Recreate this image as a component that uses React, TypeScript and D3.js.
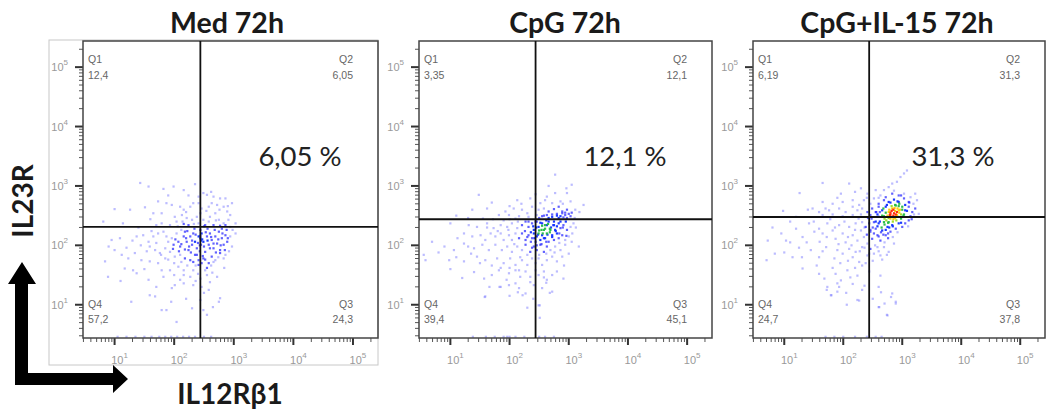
import React from "react";
import * as d3 from "d3";

// ---------- DATA ----------
const titles = ["Med 72h", "CpG 72h", "CpG+IL-15 72h"];
const q1Values = ["12,4", "3,35", "6,19"];
const q2Values = ["6,05", "12,1", "31,3"];
const q3Values = ["24,3", "45,1", "37,8"];
const q4Values = ["57,2", "39,4", "24,7"];
const gateX = [275, 275, 275]; // IL12Rβ1 gate
const gateY = [204, 275, 300]; // IL23R gate
const xTickLabels = ["1", "2", "3", "4", "5"];
const yTickLabels = ["1", "2", "3", "4", "5"];
const xAxisTitle = "IL12Rβ1";
const yAxisTitle = "IL23R";

// events as [log10 IL12Rβ1, log10 IL23R]
const medEvents: number[][] = [
  [1.43,3.05],[1.57,2.99],[1.82,2.95],[1.99,2.99],[2.16,2.93],[2.35,3.03],[2.41,2.82],[2.49,2.88],[2.55,2.85],[2.66,2.82],
  [2.77,2.79],[2.86,2.79],[2.97,2.71],[1.73,2.74],[1.87,2.71],[1.96,2.68],[2.10,2.65],[2.16,2.60],[2.27,2.65],[2.32,2.71],
  [2.41,2.71],[2.46,2.62],[2.58,2.65],[2.63,2.71],[2.72,2.68],[2.83,2.65],[2.89,2.57],[2.94,2.51],[3.03,2.37],[1.00,2.61],
  [1.26,2.60],[1.51,2.64],[1.65,2.54],[1.79,2.54],[2.01,2.48],[2.13,2.51],[2.21,2.46],[2.30,2.43],[2.38,2.48],[2.49,2.43],
  [2.60,2.48],[2.69,2.54],[2.75,2.43],[2.83,2.37],[2.91,2.43],[0.81,2.40],[1.14,2.37],[1.79,2.37],[1.93,2.34],[2.04,2.40],
  [2.16,2.36],[2.41,2.37],[2.52,2.34],[2.66,2.34],[2.77,2.33],[2.86,2.34],[2.94,2.31],
  [0.95,2.09],[1.09,2.12],[1.37,2.15],[1.48,2.17],[1.57,2.06],[1.65,2.15],[1.73,2.20],[1.82,2.23],[1.87,2.15],[1.90,2.06],
  [1.96,2.12],[1.99,2.01],[2.04,2.20],[2.07,2.06],[2.10,1.98],[2.16,2.15],[2.18,2.23],[2.21,2.06],[2.24,1.92],[2.27,2.15],
  [2.30,2.01],[2.32,2.20],[2.35,2.06],[2.38,1.95],[2.41,2.15],[2.44,2.12],[2.45,2.01],[2.46,2.20],[2.49,2.06],[2.52,1.89],
  [2.55,2.15],[2.58,2.01],[2.60,2.20],[2.63,2.09],[2.66,1.95],[2.69,2.15],[2.72,2.03],[2.75,2.23],[2.77,1.92],[2.80,2.12],
  [2.83,2.01],[2.86,2.17],[2.89,2.06],[2.94,2.15],[2.97,1.98],[3.03,2.20],[1.59,1.98],[1.68,1.92],[1.76,1.87],[1.85,1.95],
  [1.93,1.89],[2.01,1.81],[2.10,1.84],[2.18,1.78],[2.27,1.75],[2.35,1.84],[2.41,1.75],[2.49,1.78],[2.58,1.70],[2.63,1.81],
  [2.69,1.75],[2.77,1.87],[2.83,1.78],[1.00,1.92],[1.23,1.78],[1.34,1.87],[1.45,1.75],[1.59,1.73],[1.73,1.70],[1.85,1.78],
  [0.84,1.73],[1.17,1.61],[1.31,1.58],[1.79,1.58],[1.93,1.58],[2.07,1.64],[2.16,1.58],[2.32,1.58],[2.41,1.67],[2.52,1.58],
  [0.89,1.47],[1.37,1.53],[1.57,1.42],[1.82,1.47],[2.16,1.50],[2.27,1.47],[2.44,1.44],[2.55,1.50],[2.72,1.47],[2.01,1.33],
  [2.16,1.36],[2.32,1.33],[2.46,1.30],[2.58,1.25],[1.96,1.28],[1.59,1.16],[1.68,1.14],[1.28,1.05],[1.79,0.91],[1.87,0.91],
  [2.30,0.94],[2.49,0.91],[2.55,0.83],[2.75,1.05],[2.04,0.71],[2.77,1.11],
  [2.02,2.10],[2.12,2.02],[2.20,2.12],[2.25,1.98],[2.30,2.08],[2.36,2.18],[2.40,2.04],[2.43,1.90],[2.47,2.10],[2.50,1.98],
  [2.53,2.22],[2.56,2.08],[2.60,1.95],[2.62,2.14],[2.66,2.03],[2.70,1.88],[2.74,2.10],[2.78,2.00],[2.81,2.20],[2.85,1.92],
  [2.90,2.12],[2.48,1.82],[2.38,1.84],[2.28,1.88],[2.18,1.93],[2.08,1.90],[1.98,1.94],[2.44,2.26],[2.34,2.28],[2.56,2.28],
  [2.68,2.26],[2.22,2.24],[2.12,2.26],[2.46,1.70],[2.36,1.66],[2.55,1.62],[2.62,1.66],[2.44,2.16],[2.45,2.08],[2.43,2.00],
  [2.06,2.32],[2.14,2.40],[2.24,2.34],[2.33,2.36],[2.50,2.32],[2.58,2.40],[2.70,2.42],[2.80,2.28],[2.88,2.26],[2.98,2.26],
  [2.92,1.90],[2.86,1.84],[2.74,1.80],[2.66,1.72],[2.52,1.76],[2.32,1.72],[2.22,1.66],[2.12,1.72],[2.00,1.70],[1.90,1.76],
  [1.78,1.84],[1.70,2.04],[1.62,2.24],[1.54,1.90],[1.44,2.00],[1.30,2.08],[1.20,1.96],[1.12,1.84],[0.90,1.98],[1.40,2.30],
  [1.60,2.44],[1.70,2.34],[2.20,2.56],[2.44,2.54],[2.54,2.58],[2.76,2.60],[2.90,2.66],[2.62,2.90],[2.24,2.84],[1.90,2.84],
  [2.00,1.50],[2.40,1.52],[2.64,1.54],[2.84,1.62],[2.10,1.42],[2.36,1.40],[2.60,1.38],[1.70,1.30],[1.50,1.60],[1.10,1.40],
  [2.50,1.20],[2.20,1.10],[2.65,0.96],[1.95,1.05],[2.44,1.08],
  [1.05,0.46],[1.20,0.46],[1.35,0.46],[1.50,0.46],[1.62,0.46],[1.75,0.46],[1.85,0.46],[1.95,0.46],[2.05,0.46],[2.15,0.46],
  [2.25,0.46],[2.35,0.46],[2.50,0.46],[2.62,0.46],
];

const cpgEvents: number[][] = [
  [2.77,3.19],[3.05,3.02],[1.48,2.85],[2.13,2.76],[2.35,2.79],[2.63,2.82],[2.77,2.88],[2.97,2.88],[2.52,2.71],[2.72,2.71],
  [2.86,2.74],[3.03,2.74],[3.25,2.68],[1.93,2.57],[2.07,2.62],[2.21,2.60],[2.30,2.54],[2.38,2.65],[2.49,2.60],[2.58,2.62],
  [2.66,2.57],[2.75,2.61],[2.83,2.65],[2.89,2.57],[2.97,2.60],[3.05,2.55],[3.11,2.60],[1.37,2.60],[1.62,2.62],[1.82,2.51],
  [1.99,2.51],[2.16,2.49],[2.32,2.48],[2.46,2.51],[2.55,2.49],[2.63,2.51],[2.72,2.48],[2.80,2.53],[2.86,2.49],[2.94,2.51],
  [3.03,2.49],[2.89,2.54],[2.94,2.55],[3.00,2.53],[2.91,2.47],[2.83,2.46],[2.97,2.46],
  [1.00,2.37],[1.31,2.34],[1.45,2.31],[1.62,2.37],[1.73,2.29],[1.85,2.34],[1.96,2.31],[2.04,2.37],[2.13,2.29],[2.21,2.34],
  [2.27,2.40],[2.32,2.31],[2.38,2.37],[2.41,2.26],[2.46,2.40],[2.49,2.31],[2.55,2.37],[2.58,2.26],[2.63,2.34],[2.66,2.40],
  [2.69,2.26],[2.75,2.34],[2.77,2.26],[2.83,2.37],[2.86,2.29],[2.91,2.34],[2.97,2.26],[3.03,2.31],[3.08,2.37],
  [1.23,2.20],[1.37,2.15],[1.51,2.17],[1.59,2.09],[1.68,2.20],[1.76,2.15],[1.85,2.20],[1.90,2.09],[1.99,2.17],[2.04,2.09],
  [2.10,2.20],[2.16,2.12],[2.21,2.20],[2.27,2.09],[2.32,2.17],[2.38,2.12],[2.41,2.20],[2.44,2.06],[2.46,2.15],[2.49,2.20],
  [2.52,2.09],[2.55,2.17],[2.60,2.12],[2.63,2.20],[2.66,2.06],[2.72,2.17],[2.75,2.09],[2.80,2.20],[2.83,2.12],[2.89,2.17],
  [2.94,2.09],[3.00,2.15],[3.05,2.06],[3.17,1.98],[0.69,2.06],[1.06,1.92],[1.23,2.03],[1.40,1.95],[1.54,2.01],[1.65,1.92],
  [1.76,2.01],[1.87,1.92],[1.96,1.98],[2.04,1.89],[2.13,1.98],[2.21,1.92],[2.27,2.01],[2.35,1.89],[2.41,1.98],[2.46,1.92],
  [2.52,2.01],[2.58,1.89],[2.63,1.98],[2.69,1.92],[2.77,1.98],[2.86,1.92],[2.94,2.01],[0.55,1.84],[0.58,1.75],[0.98,1.75],
  [1.23,1.73],[1.45,1.81],[1.59,1.75],[1.79,1.78],[1.90,1.70],[2.01,1.78],[2.10,1.67],[2.21,1.75],[2.30,1.67],[2.38,1.78],
  [2.44,1.70],[2.49,1.78],[2.55,1.67],[2.63,1.75],[2.72,1.81],[2.80,1.73],[2.89,1.81],
  [1.57,1.44],[1.82,1.58],[1.85,1.30],[1.99,1.53],[2.10,1.58],[2.18,1.47],[2.27,1.56],[2.35,1.47],[2.44,1.58],[2.49,1.50],
  [2.58,1.56],[2.63,1.42],[2.72,1.50],[2.91,1.44],[1.99,1.33],[2.16,1.28],[2.27,1.19],[2.41,1.33],[2.55,1.28],[2.72,1.22],
  [1.59,1.14],[2.49,0.99],[1.58,1.13],[1.83,1.30],[2.14,1.21],[2.22,1.16],[2.51,0.99],[2.51,0.78],[2.68,1.20],[2.62,1.37],
  [2.45,2.30],[2.50,2.25],[2.55,2.33],[2.60,2.28],[2.65,2.36],[2.70,2.30],[2.75,2.40],[2.80,2.32],[2.62,2.42],[2.56,2.20],
  [2.52,2.38],[2.68,2.22],[2.72,2.14],[2.78,2.24],[2.58,2.12],[2.48,2.18],[2.42,2.12],[2.40,2.32],[2.36,2.22],[2.32,2.40],
  [2.66,2.46],[2.86,2.40],[2.90,2.30],[2.84,2.20],[2.62,2.06],[2.54,2.02],[2.46,2.00],[2.38,1.96],[2.30,2.14],[2.44,2.40],
  [2.58,2.50],[2.72,2.52],[2.80,2.50],[2.50,2.46],[2.95,2.40],[2.64,2.18],[2.60,2.34],[2.68,2.28],[2.54,2.26],[2.74,2.34],
  [1.10,2.50],[1.30,2.46],[1.55,2.45],[1.72,2.44],[1.90,2.42],[2.00,2.44],[2.10,2.45],[1.62,2.30],[1.80,2.24],[1.12,2.12],
  [1.30,1.98],[0.90,1.98],[0.80,1.88],[1.10,1.80],[1.35,1.86],[1.50,1.70],[1.70,1.66],[1.85,1.62],[2.00,1.62],[2.16,1.58],
  [1.40,1.55],[1.70,1.50],[1.95,1.42],[2.10,1.36],[2.35,1.38],[2.58,1.46],[2.80,1.56],[2.92,1.66],[3.00,1.86],[3.06,2.20],
  [3.12,2.30],[3.10,2.46],[3.18,2.56],[2.90,2.70],[2.60,2.76],[2.44,2.86],[2.20,2.70],[2.00,2.66],[1.70,2.72],[2.96,2.96],
  [2.66,3.00],[2.30,1.84],[2.18,1.80],[2.08,2.02],[1.98,2.26],[2.14,2.40],[2.26,2.24],[2.36,2.06],[2.50,1.84],[2.62,1.86],
  [2.76,1.88],[2.84,2.04],[2.96,2.16],[1.00,1.60],[1.20,1.45],[1.66,1.30],[2.40,1.10],[2.30,0.95],[2.00,1.15],
  [1.38,0.46],[1.60,0.46],[1.75,0.46],[1.90,0.46],[1.96,0.46],[2.00,0.46],[2.10,0.46],[2.25,0.46],[2.50,0.46],[2.60,0.46],[2.75,0.46],
];

const cpgIl15Events: number[][] = [
  [3.08,3.26],[3.03,3.21],[2.97,3.15],[2.91,3.07],[2.83,3.04],[2.77,2.98],[2.69,2.93],[1.65,3.05],[2.10,3.04],[1.26,2.88],
  [1.96,2.87],[2.30,2.96],[2.41,2.87],[2.55,2.93],[2.63,2.84],[2.72,2.81],[2.83,2.87],[2.94,2.84],[3.03,2.87],[3.14,2.81],
  [3.22,2.87],[1.65,2.73],[1.82,2.70],[1.99,2.73],[2.16,2.76],[2.27,2.68],[2.35,2.76],[2.46,2.70],[2.52,2.79],[2.60,2.70],
  [2.69,2.76],[2.77,2.73],[2.86,2.77],[2.94,2.73],[3.03,2.79],[3.11,2.73],[3.19,2.70],[3.25,2.76],[0.98,2.58],[1.48,2.62],
  [1.59,2.56],[1.76,2.59],[1.93,2.62],[2.04,2.56],[2.16,2.65],[2.24,2.59],[2.32,2.62],[2.41,2.56],[2.49,2.62],[2.55,2.56],
  [2.60,2.65],[2.66,2.59],[2.72,2.65],[2.77,2.56],[2.83,2.62],[2.89,2.67],[2.94,2.59],[3.00,2.65],[3.05,2.59],[3.11,2.65],
  [3.17,2.56],[3.22,2.62],[3.28,2.53],[1.20,2.48],[1.65,2.51],[1.82,2.52],[1.99,2.49],[2.16,2.51],[2.30,2.52],[2.46,2.51],
  [2.58,2.52],[2.69,2.49],[2.80,2.52],[2.91,2.51],[3.03,2.52],[3.14,2.49],
  [0.72,2.08],[0.84,1.86],[1.03,2.08],[1.20,2.28],[1.31,2.14],[1.42,2.37],[1.51,2.23],[1.59,2.28],[1.65,2.20],[1.73,2.37],
  [1.82,2.25],[1.87,2.11],[1.93,2.34],[1.99,2.20],[2.04,2.05],[2.10,2.31],[2.16,2.17],[2.21,2.37],[2.24,2.08],[2.30,2.25],
  [2.32,2.39],[2.35,2.14],[2.38,2.31],[2.41,2.03],[2.44,2.37],[2.46,2.23],[2.49,2.11],[2.52,2.39],[2.55,2.28],[2.58,2.17],
  [2.60,2.37],[2.63,2.08],[2.66,2.25],[2.69,2.39],[2.72,2.17],[2.75,2.31],[2.77,2.39],[2.80,2.23],[2.83,2.34],[2.89,2.28],
  [2.94,2.37],[3.00,2.31],[3.05,2.37],[3.11,2.42],[1.14,1.80],[1.31,1.61],[1.45,1.92],[1.59,1.80],[1.71,1.97],[1.85,1.78],
  [1.90,1.92],[1.99,1.86],[2.10,1.94],[2.16,1.80],[2.21,1.89],[2.27,1.72],[2.32,1.97],[2.41,1.83],[2.46,1.94],[2.52,1.86],
  [2.58,1.97],[2.63,1.83],[2.69,1.97],[2.77,1.89],[2.86,2.03],[1.59,1.52],[1.73,1.30],[1.87,1.52],[1.96,1.41],[2.07,1.58],
  [2.16,1.35],[2.24,1.49],[2.32,1.66],[1.90,1.22],[1.79,1.16],[2.27,1.07],[2.60,1.30],[2.63,1.49],[2.83,1.19],[2.89,1.02],
  [2.75,0.82],[2.60,0.96],[1.72,1.25],[1.80,1.16],[1.93,1.30],[2.05,1.20],[2.24,1.08],[2.32,1.25],[2.64,1.21],[2.81,1.13],
  [2.89,1.05],[2.61,0.96],[2.74,0.83],
  [2.70,2.45],[2.75,2.50],[2.80,2.55],[2.85,2.60],[2.90,2.50],[2.95,2.55],[2.80,2.45],[2.85,2.50],[2.88,2.58],[2.92,2.62],
  [2.78,2.60],[2.82,2.66],[2.88,2.68],[2.95,2.70],[3.00,2.60],[3.02,2.50],[2.98,2.45],[2.90,2.42],[2.84,2.40],[2.76,2.38],
  [2.72,2.55],[2.68,2.62],[2.74,2.68],[2.80,2.72],[2.92,2.74],[3.05,2.68],[3.08,2.58],[2.86,2.54],[2.83,2.48],[2.88,2.46],
  [2.91,2.56],[2.79,2.51],[2.87,2.63],[2.93,2.48],[2.96,2.60],[2.62,2.40],[2.60,2.48],[2.58,2.32],[2.65,2.30],[2.70,2.35],
  [2.64,2.22],[2.72,2.26],[2.78,2.30],[2.55,2.40],[2.50,2.30],[2.48,2.45],[2.62,2.56],[2.66,2.50],[2.56,2.56],[2.52,2.20],
  [2.60,2.15],[2.68,2.18],[2.76,2.20],[2.84,2.32],[2.46,2.26],[2.42,2.46],[2.40,2.18],[2.36,2.30],[2.85,2.44],[2.89,2.52],
  [2.82,2.58],[2.94,2.66],[2.98,2.52],[2.77,2.46],[2.73,2.42],
  [0.80,2.30],[0.95,2.20],[1.10,2.05],[1.25,1.96],[1.00,1.88],[0.70,1.75],[1.38,2.05],[1.50,2.40],[1.60,2.06],[1.72,2.14],
  [1.78,2.44],[1.86,2.30],[1.92,2.02],[2.02,2.40],[2.08,2.14],[2.14,2.00],[2.20,2.26],[2.26,2.45],[2.28,1.90],[2.36,1.96],
  [2.44,1.86],[2.54,2.00],[2.60,1.90],[2.70,2.05],[2.76,2.12],[2.84,2.14],[2.92,2.22],[2.98,2.38],[3.10,2.32],[3.16,2.44],
  [3.20,2.52],[3.12,2.72],[2.98,2.84],[2.86,2.92],[2.60,2.80],[2.40,2.80],[2.20,2.90],[1.90,2.80],[1.70,2.62],[1.40,2.60],
  [1.10,2.40],[1.30,1.80],[1.55,1.66],[1.65,1.90],[1.82,1.62],[1.95,1.70],[2.08,1.74],[2.20,1.62],[2.38,1.70],[2.50,1.74],
  [2.66,1.76],[2.74,1.84],[2.44,1.56],[2.12,1.46],[1.90,1.36],[1.68,1.44],[2.36,1.32],[2.50,1.10],[2.06,1.00],[2.70,1.02],
  [1.70,0.46],[1.85,0.46],[2.00,0.46],[2.20,0.46],[2.40,0.46],[2.55,0.46],[2.65,0.46],
];

const panelEvents = [medEvents, cpgEvents, cpgIl15Events];

// ---------- LAYOUT ----------
const W = 1046, H = 417;
const panels = [
  { left: 83, width: 295, titleX: 227, pctX: 300 },
  { left: 419, width: 293, titleX: 565, pctX: 625 },
  { left: 753, width: 292, titleX: 897, pctX: 953 },
];
const top = 41, bottom = 338;
const xDom = [Math.pow(10, 0.47), Math.pow(10, 5.42)];
const yDom = [Math.pow(10, 0.44), Math.pow(10, 5.44)];

const densityColor = (n: number) => {
  if (n >= 37) return "#ff2200";
  if (n >= 33) return "#ffcc00";
  if (n >= 29) return "#99dd22";
  if (n >= 24) return "#22bb44";
  if (n >= 18) return "#1030ff";
  if (n >= 10) return "#2020ff";
  return "#7a7aff";
};

function Panel({ idx }: { idx: number }) {
  const p = panels[idx];
  const x = d3.scaleLog().domain(xDom).range([p.left, p.left + p.width]);
  const y = d3.scaleLog().domain(yDom).range([bottom, top]);
  const ev = panelEvents[idx];
  const counts = ev.map((a) =>
    ev.reduce((s, b) => s + (Math.hypot(a[0] - b[0], a[1] - b[1]) < 0.16 ? 1 : 0), 0)
  );
  const order = d3.range(ev.length).sort((a, b) => counts[a] - counts[b]);
  const majors = [1, 2, 3, 4, 5];
  const minorX: number[] = [];
  const minorY: number[] = [];
  for (let e = 0; e <= 5; e++)
    for (let k = 2; k <= 9; k++) {
      const v = k * Math.pow(10, e);
      if (v > xDom[0] && v < xDom[1]) minorX.push(v);
      if (v > yDom[0] && v < yDom[1]) minorY.push(v);
    }
  const gx = x(gateX[idx]);
  const gy = y(gateY[idx]);
  const R = p.left + p.width;
  const qStyle = { fontFamily: "Liberation Sans, Arial, sans-serif", fontSize: 10.5, fill: "#666" };
  const tickStyle = { fontFamily: "Liberation Sans, Arial, sans-serif", fontSize: 11, fill: "#999" };
  return (
    <g>
      <text x={p.titleX} y={33} textAnchor="middle" style={{ fontFamily: "Lato, sans-serif", fontWeight: 700, fontSize: 28.5, fill: "#1a1a1a" }}>
        {titles[idx]}
      </text>
      {/* events */}
      {order.map((i) => {
        const [lx, ly] = ev[i];
        const c = counts[i];
        return (
          <rect key={i} x={x(Math.pow(10, lx)) - 1.1} y={y(Math.pow(10, ly)) - 1.1} width={2.2} height={2.2}
            fill={densityColor(c)} opacity={c >= 18 ? 0.95 : c >= 10 ? 0.7 : 0.5} />
        );
      })}
      {/* y ticks */}
      {minorY.map((v, i) => (
        <line key={"my" + i} x1={p.left - 4} x2={p.left} y1={y(v)} y2={y(v)} stroke="#555" strokeWidth={1} />
      ))}
      {majors.map((e, i) => (
        <g key={"Y" + i}>
          <line x1={p.left - 8} x2={p.left} y1={y(Math.pow(10, e))} y2={y(Math.pow(10, e))} stroke="#333" strokeWidth={2} />
          <text x={p.left - 15} y={y(Math.pow(10, e)) + 4} textAnchor="end" style={tickStyle}>
            10<tspan dy={-6} fontSize={8}>{yTickLabels[i]}</tspan>
          </text>
        </g>
      ))}
      {/* x ticks */}
      {minorX.map((v, i) => (
        <line key={"mx" + i} y1={bottom} y2={bottom + 4} x1={x(v)} x2={x(v)} stroke="#555" strokeWidth={1} />
      ))}
      {majors.map((e, i) => (
        <g key={"X" + i}>
          <line y1={bottom} y2={bottom + 7} x1={x(Math.pow(10, e))} x2={x(Math.pow(10, e))} stroke="#333" strokeWidth={2} />
          <text x={x(Math.pow(10, e)) + 5} y={bottom + 26} textAnchor="middle" style={tickStyle}>
            10<tspan dy={-6} fontSize={8}>{xTickLabels[i]}</tspan>
          </text>
        </g>
      ))}
      {/* frame */}
      <rect x={p.left} y={top} width={p.width} height={bottom - top} fill="none" stroke="#444" strokeWidth={1.5} />
      {/* gates */}
      <line x1={gx} x2={gx} y1={top} y2={bottom} stroke="#111" strokeWidth={1.8} />
      <line x1={p.left} x2={R} y1={gy} y2={gy} stroke="#111" strokeWidth={1.8} />
      {/* quadrant labels */}
      <text x={p.left + 5} y={63} style={qStyle}>Q1</text>
      <text x={p.left + 5} y={79} style={qStyle}>{q1Values[idx]}</text>
      <text x={R - 25} y={63} textAnchor="end" style={qStyle}>Q2</text>
      <text x={R - 25} y={79} textAnchor="end" style={qStyle}>{q2Values[idx]}</text>
      <text x={p.left + 5} y={308} style={qStyle}>Q4</text>
      <text x={p.left + 5} y={323} style={qStyle}>{q4Values[idx]}</text>
      <text x={R - 25} y={308} textAnchor="end" style={qStyle}>Q3</text>
      <text x={R - 25} y={323} textAnchor="end" style={qStyle}>{q3Values[idx]}</text>
      <text x={p.pctX} y={166} textAnchor="middle" style={{ fontFamily: "Lato, sans-serif", fontSize: 27.5, fill: "#222" }}>
        {q2Values[idx]} %
      </text>
    </g>
  );
}

export default function App() {
  return (
    <svg width={W} height={H} style={{ position: "absolute", left: 0, top: 0, background: "#fff" }}>
      <rect x={0} y={0} width={W} height={H} fill="#fff" />
      <rect x={49} y={40} width={329} height={325} fill="none" stroke="#c8c8c8" strokeWidth={1} />
      {[0, 1, 2].map((i) => <Panel key={i} idx={i} />)}
      {/* axis titles */}
      <text transform="translate(33,201) rotate(-90)" textAnchor="middle"
        style={{ fontFamily: "Lato, sans-serif", fontWeight: 700, fontSize: 28, fill: "#1a1a1a" }}>{yAxisTitle}</text>
      <text x={230} y={404} textAnchor="middle"
        style={{ fontFamily: "Lato, sans-serif", fontWeight: 700, fontSize: 28, fill: "#1a1a1a" }}>{xAxisTitle}</text>
      {/* L-shaped arrow */}
      <path d="M15,284 L15,385 L113,385 L113,393 L128,379 L113,365 L113,373 L28,373 L28,284 L36,284 L22,262 L8,284 Z" fill="#000" />
    </svg>
  );
}
